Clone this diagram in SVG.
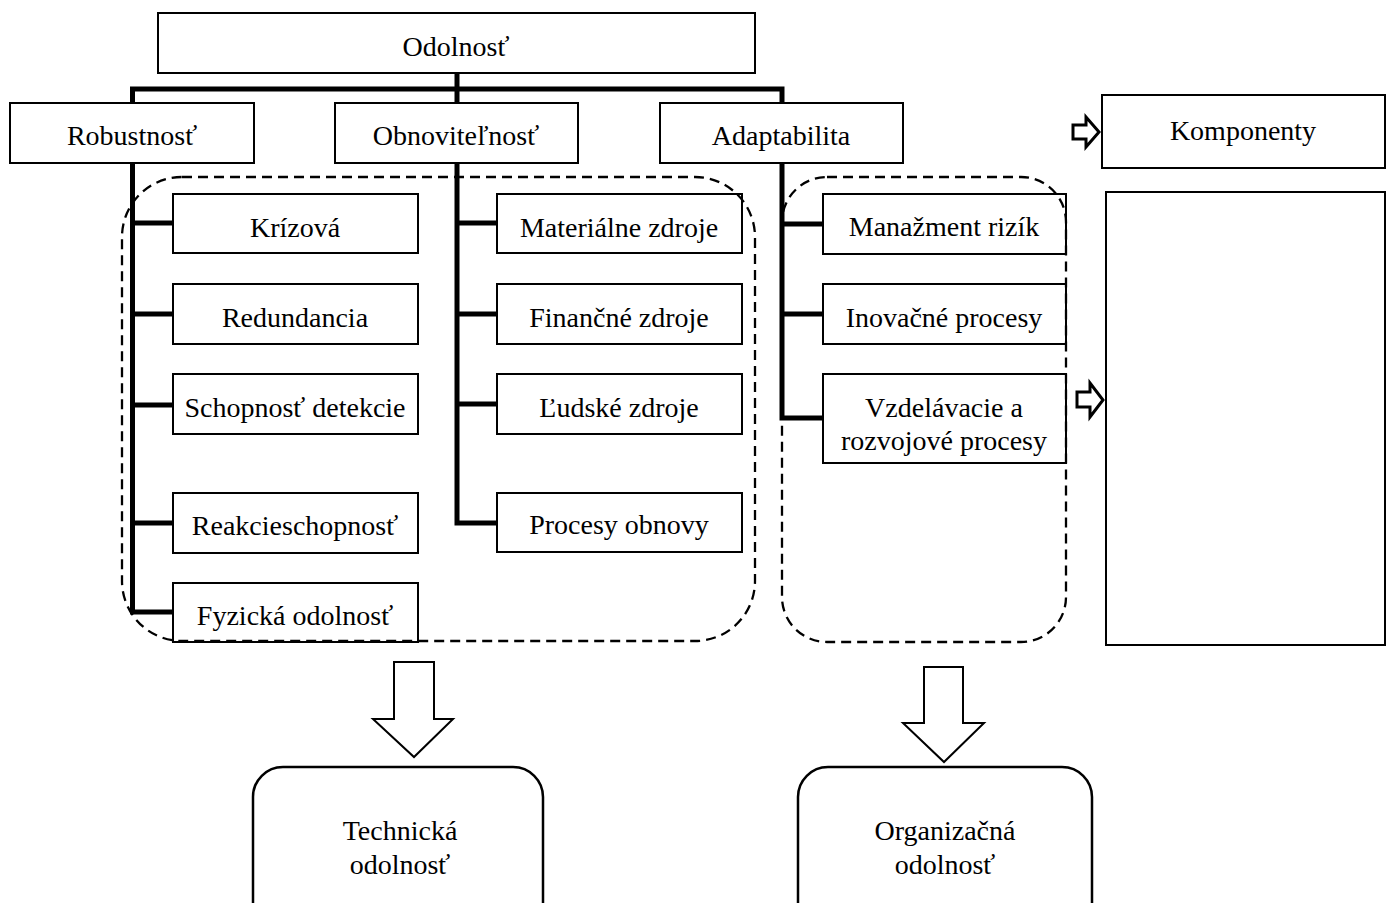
<svg xmlns="http://www.w3.org/2000/svg" width="1390" height="903" viewBox="0 0 1390 903">
<style>
.box{fill:#fff;stroke:#000;stroke-width:2}
.rbox{fill:#fff;stroke:#000;stroke-width:2.5}
.t{font-family:"Liberation Serif","Times New Roman",serif;font-size:28px;fill:#000;text-anchor:middle}
.conn{fill:none;stroke:#000;stroke-width:5;stroke-linejoin:miter;stroke-linecap:butt}
.dash{fill:none;stroke:#000;stroke-width:2.3;stroke-dasharray:10 6}
.barrow{fill:#fff;stroke:#000;stroke-width:2;stroke-linejoin:miter}
.sarrow{fill:#fff;stroke:#000;stroke-width:3;stroke-linejoin:miter}
</style>
<rect width="1390" height="903" fill="#fff"/>
<g id="connectors">
<path class="conn" d="M457 73 V103"/>
<path class="conn" d="M132.5 103 V89 H782 V103"/>
<path class="conn" d="M132.5 163 V612 H173 M132.5 223 H173 M132.5 314 H173 M132.5 405 H173 M132.5 523 H173"/>
<path class="conn" d="M457 163 V523 H497 M457 223 H497 M457 314 H497 M457 404 H497"/>
<path class="conn" d="M782 163 V418 H823 M782 224 H823 M782 314 H823"/>
</g>
<g id="n-odolnost"><rect class="box" x="158" y="13" width="597" height="60"/><text class="t" x="456" y="56">Odolnosť</text></g>
<g id="n-robustnost"><rect class="box" x="10" y="103" width="244" height="60"/><text class="t" x="132" y="145">Robustnosť</text></g>
<g id="n-obnovitelnost"><rect class="box" x="335" y="103" width="243" height="60"/><text class="t" x="456" y="145">Obnoviteľnosť</text></g>
<g id="n-adaptabilita"><rect class="box" x="660" y="103" width="243" height="60"/><text class="t" x="781" y="145">Adaptabilita</text></g>
<g id="n-komponenty"><rect class="box" x="1102" y="95" width="283" height="73"/><text class="t" x="1243" y="140">Komponenty</text></g>
<g id="n-empty"><rect class="box" x="1106" y="192" width="279" height="453"/></g>
<g id="n-krizova"><rect class="box" x="173" y="194" width="245" height="59"/><text class="t" x="295" y="237">Krízová</text></g>
<g id="n-redundancia"><rect class="box" x="173" y="284" width="245" height="60"/><text class="t" x="295" y="327">Redundancia</text></g>
<g id="n-detekcia"><rect class="box" x="173" y="374" width="245" height="60"/><text class="t" x="295" y="417">Schopnosť detekcie</text></g>
<g id="n-reakcia"><rect class="box" x="173" y="493" width="245" height="60"/><text class="t" x="295" y="535">Reakcieschopnosť</text></g>
<g id="n-fyzicka"><rect class="box" x="173" y="583" width="245" height="59"/><text class="t" x="295" y="625">Fyzická odolnosť</text></g>
<g id="n-materialne"><rect class="box" x="497" y="194" width="245" height="59"/><text class="t" x="619" y="237">Materiálne zdroje</text></g>
<g id="n-financne"><rect class="box" x="497" y="284" width="245" height="60"/><text class="t" x="619" y="327">Finančné zdroje</text></g>
<g id="n-ludske"><rect class="box" x="497" y="374" width="245" height="60"/><text class="t" x="619" y="417">Ľudské zdroje</text></g>
<g id="n-procesy"><rect class="box" x="497" y="493" width="245" height="59"/><text class="t" x="619" y="534">Procesy obnovy</text></g>
<g id="n-manazment"><rect class="box" x="823" y="194" width="243" height="60"/><text class="t" x="944" y="236">Manažment rizík</text></g>
<g id="n-inovacne"><rect class="box" x="823" y="284" width="243" height="60"/><text class="t" x="944" y="327">Inovačné procesy</text></g>
<g id="n-vzdelavacie"><rect class="box" x="823" y="374" width="243" height="89"/><text class="t" x="944" y="417">Vzdelávacie a</text><text class="t" x="944" y="450">rozvojové procesy</text></g>
<g id="groups">
<rect class="dash" x="122" y="177" width="633" height="464" rx="60" ry="60"/>
<rect class="dash" x="782" y="177" width="284" height="465" rx="45" ry="45"/>
</g>
<g id="arrows">
<polygon class="barrow" points="394,662 434,662 434,719 453,719 414,757 373,719 394,719"/>
<polygon class="barrow" points="924,667 963,667 963,723 984,723 944,762 903,723 924,723"/>
<polygon class="sarrow" points="1073,125 1086,125 1086,117 1099,132 1086,147 1086,139 1073,139"/>
<polygon class="sarrow" points="1077,392 1090,392 1090,383 1103,400 1090,417 1090,407 1077,407"/>
</g>
<g id="n-technicka"><rect class="rbox" x="253" y="767" width="290" height="170" rx="30" ry="30"/><text class="t" x="400" y="840">Technická</text><text class="t" x="400" y="874">odolnosť</text></g>
<g id="n-organizacna"><rect class="rbox" x="798" y="767" width="294" height="170" rx="30" ry="30"/><text class="t" x="945" y="840">Organizačná</text><text class="t" x="945" y="874">odolnosť</text></g>
</svg>
